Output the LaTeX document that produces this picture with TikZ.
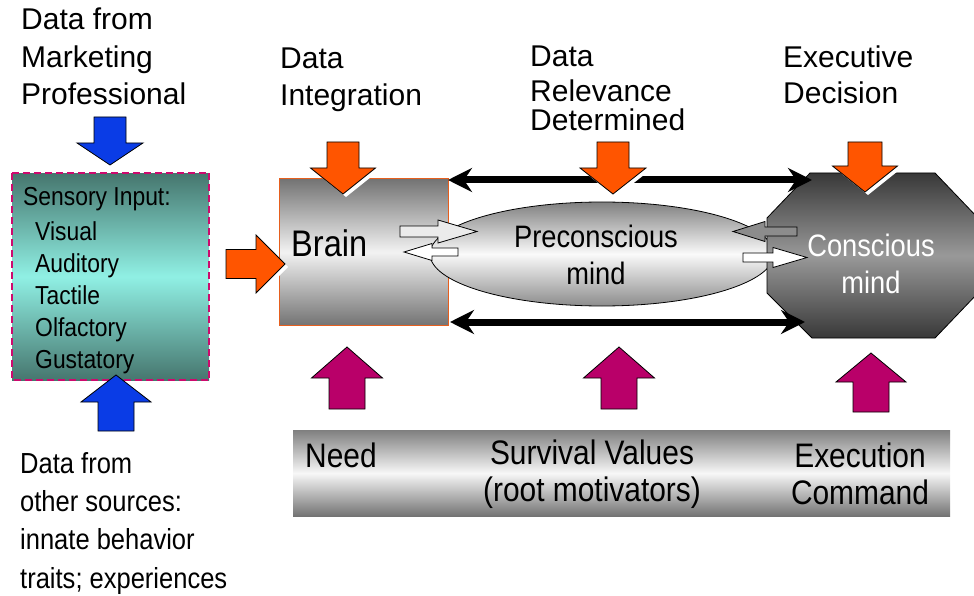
\documentclass[tikz,border=0pt]{standalone}
\usepackage{fontspec}
\setmainfont{Liberation Sans}
\newfontfamily\nf[FakeStretch=0.88]{Liberation Sans}
\usetikzlibrary{arrows.meta,shapes.geometric}
\definecolor{myorange}{RGB}{255,85,0}
\definecolor{myblue}{RGB}{10,60,230}
\definecolor{mymag}{RGB}{185,0,105}
\definecolor{dashmag}{RGB}{205,10,110}
\definecolor{tealdark}{RGB}{70,118,110}
\definecolor{teallight}{RGB}{144,240,228}
% vertical block arrow: style, cx, half shaft, y end, y head base, half head, y tip
\newcommand{\blkv}[7]{\path[#1] ({#2-#3},#4) -- ({#2+#3},#4) -- ({#2+#3},#5) -- ({#2+#6},#5) -- (#2,#7) -- ({#2-#6},#5) -- ({#2-#3},#5) -- cycle;}
% horizontal block arrow: style, cy, half shaft, x end, x head base, half head, x tip
\newcommand{\blkh}[7]{\path[#1] (#4,{#2-#3}) -- (#4,{#2+#3}) -- (#5,{#2+#3}) -- (#5,{#2+#6}) -- (#7,#2) -- (#5,{#2-#6}) -- (#5,{#2-#3}) -- (#4,{#2-#3}) -- cycle;}
\begin{document}
\begin{tikzpicture}[x=1pt,y=-1pt,
  hd/.style={font=\fontsize{30}{37.5}\selectfont, align=left, inner sep=0, anchor=north west},
  blk/.style={draw=black, line width=0.8pt, line join=miter},
  orangeblk/.style={blk, fill=myorange},
  blueblk/.style={blk, fill=myblue},
  magblk/.style={blk, fill=mymag},
  whiteshadow/.style={fill=white},
  sensefill/.style={top color=tealdark, bottom color=tealdark, middle color=teallight, inner sep=0, anchor=north west},
  senseframe/.style={draw=dashmag, dash pattern=on 7pt off 4pt, line width=2pt},
  brainbox/.style={draw={rgb,255:red,230;green,95;blue,30}, line width=1.2pt, top color=black!55, bottom color=black!55, middle color=black!5, inner sep=0, anchor=north west},
  prebox/.style={ellipse, draw=black, line width=0.8pt, top color=black!50, bottom color=black!45, middle color=black!2, inner sep=0},
  conshape/.style={draw=black, line width=0.8pt, top color=black!78, bottom color=black!78, middle color=black!40},
  barbox/.style={top color=black!50, bottom color=black!55, middle color=black!3, inner sep=0, anchor=north west},
  bigarrow/.style={line width=7pt, {Stealth[length=24pt,width=24pt,inset=8pt]}-{Stealth[length=24pt,width=24pt,inset=8pt]}},
  nt/.style={font=\nf\fontsize{#1}{#1}\selectfont, inner sep=0}
]
\useasboundingbox (0,0) rectangle (974,596);

% ---------- headings ----------
\node[hd] (hmarket) at (21,8) {Data from\\Marketing\\Professional};
\node[hd, font=\fontsize{30}{37}\selectfont] (hinteg) at (280,48) {Data\\Integration};
\node[hd, font=\fontsize{30}{35}\selectfont] (hrelev) at (530,46) {Data\\Relevance\\[-6pt]Determined};
\node[hd, font=\fontsize{30}{36}\selectfont] (hexec) at (783,46) {Executive\\Decision};

% ---------- sensory box ----------
\node[sensefill, minimum width=197pt, minimum height=207pt] (sense) at (12,173) {};
\draw[senseframe] (sense.north west) rectangle (sense.south east);
\node[font=\nf\fontsize{26}{32}\selectfont, align=left, inner sep=0, anchor=north west] (sensetxt) at (23,187)
  {Sensory Input:\\[3pt]\hspace*{12pt}Visual\\\hspace*{12pt}Auditory\\\hspace*{12pt}Tactile\\\hspace*{12pt}Olfactory\\\hspace*{12pt}Gustatory};

% ---------- bottom-left text ----------
\node[font=\nf\fontsize{29}{38.3}\selectfont, align=left, inner sep=0, anchor=north west] (other) at (20,452)
  {Data from\\other sources:\\innate behavior\\traits; experiences};

% ---------- brain ----------
\node[brainbox, minimum width=169pt, minimum height=147pt] (brain) at (279,178) {};
\node[nt=37, anchor=west] (braintxt) at (291,243) {Brain};

% ---------- preconscious ----------
\node[prebox, minimum width=344pt, minimum height=104pt] (pre) at (602,254) {};
\node[nt=31, align=center, font=\nf\fontsize{31}{37}\selectfont] (pretxt) at (596,255) {Preconscious\\mind};

% ---------- conscious ----------
\path[conshape] (810,173) -- (935,173) -- (978,218) -- (978,293) -- (935,338) -- (812,338) -- (767,293) -- (767,218) -- cycle;
\node[align=center, inner sep=0, text=white, font=\nf\fontsize{31}{37}\selectfont] (con) at (871,264) {Conscious\\mind};

% ---------- small arrows ----------
\blkh{blk, fill=black!8}{231.5}{5.5}{400}{438}{11.5}{477}
\blkh{blk, fill=white}{252}{4}{458}{432}{8.5}{404}
\blkh{blk, fill=black!45}{231.5}{4.5}{797}{765}{10}{733}
\blkh{blk, fill=white}{257.5}{4.5}{743}{773}{10}{807}

% ---------- big black arrows ----------
\coordinate (topL) at (448,180);
\coordinate (topR) at (812,180);
\coordinate (botL) at (450,322);
\coordinate (botR) at (805,322);
\draw[bigarrow] (topL) -- (topR);
\draw[bigarrow] (botL) -- (botR);

% ---------- blue arrows ----------
\blkv{blueblk}{110}{16}{117}{143}{33}{165}
\blkv{blueblk}{116}{18}{431}{402}{35}{375}

% ---------- orange arrows (with white shadow) ----------
\begin{scope}[shift={(3,3)}]
\blkh{whiteshadow}{264}{14.5}{226}{256}{29}{285}
\blkv{whiteshadow}{343}{16}{142}{168}{32.5}{194}
\blkv{whiteshadow}{613}{16}{142}{168}{33}{194}
\blkv{whiteshadow}{865}{17}{142}{166}{32.5}{192}
\end{scope}
\blkh{orangeblk}{264}{14.5}{226}{256}{29}{285}
\blkv{orangeblk}{343}{16}{142}{168}{32.5}{194}
\blkv{orangeblk}{613}{16}{142}{168}{33}{194}
\blkv{orangeblk}{865}{17}{142}{166}{32.5}{192}

% ---------- magenta arrows ----------
\blkv{magblk}{347}{18}{409}{378}{35.5}{347}
\blkv{magblk}{619}{18}{409}{378}{35.5}{347}
\blkv{magblk}{871}{18}{412}{382}{35}{353}

% ---------- bottom bar ----------
\node[barbox, minimum width=657pt, minimum height=86pt] (bar) at (293,430) {};
\node[nt=34, anchor=west] (need) at (305,455) {Need};
\node[align=center, inner sep=0, font=\nf\fontsize{34}{37}\selectfont] (surv) at (592,474) {Survival Values\\(root motivators)};
\node[align=center, inner sep=0, font=\nf\fontsize{34}{37}\selectfont] (execc) at (860,474) {Execution\\Command};
\end{tikzpicture}
\end{document}
